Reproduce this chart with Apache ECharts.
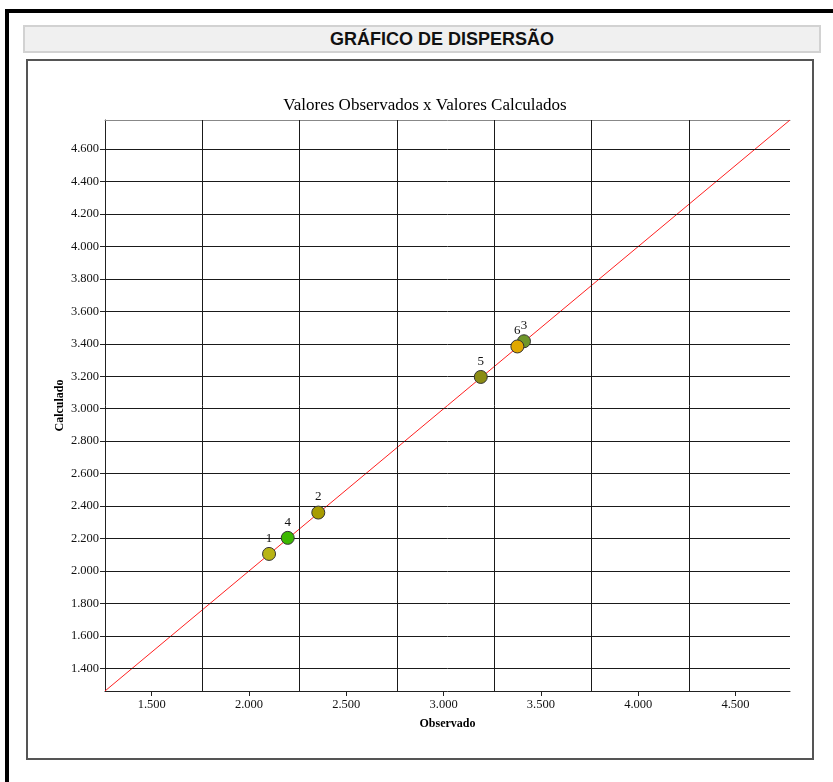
<!DOCTYPE html>
<html>
<head>
<meta charset="utf-8">
<script src="https://cdn.jsdelivr.net/npm/echarts@6/dist/echarts.min.js"></script>
<style>
  html, body { margin: 0; padding: 0; background: #fff; }
  #page { position: relative; width: 833px; height: 782px; overflow: hidden; background: #fff; }
  .bar-top { position: absolute; left: 5px; top: 9px; width: 828px; height: 4px; background: #000; }
  .bar-left { position: absolute; left: 5px; top: 9px; width: 4px; height: 773px; background: #000; }
  .header { position: absolute; left: 23px; top: 25px; width: 798px; height: 28px; box-sizing: border-box;
            background: #f0f0f0; border: 2px solid #d2d2d2; }
  .header span { position: absolute; left: 417px; top: 2px; transform: translateX(-50%); white-space: nowrap;
            font-family: "Liberation Sans", Arial, sans-serif; font-weight: bold; font-size: 18px; color: #111; }
  .box { position: absolute; left: 26px; top: 59px; width: 788px; height: 701px; box-sizing: border-box;
         border: 2px solid #555; }
  #chart { position: absolute; left: 0; top: 0; width: 833px; height: 782px; }
</style>
</head>
<body>
<div id="page">
  <div class="bar-top"></div>
  <div class="bar-left"></div>
  <div class="header"><span>GRÁFICO DE DISPERSÃO</span></div>
  <div class="box"></div>
  <div id="chart"></div>
</div>
<script>
// ---- data ----
var pointLabels = ['1', '2', '3', '4', '5', '6'];
var observado = [2103, 2356, 3413, 2199, 3191, 3379];
var calculado = [2105, 2360, 3416, 2204, 3196, 3384];
var pointColors = ['#b8b414', '#a89c00', '#6e9628', '#3cb800', '#8c8c14', '#e0a800'];
var axisRange = [1260, 4780];
var xTickValues = [1500, 2000, 2500, 3000, 3500, 4000, 4500];
var yTickValues = [1400, 1600, 1800, 2000, 2200, 2400, 2600, 2800, 3000, 3200, 3400, 3600, 3800, 4000, 4200, 4400, 4600];
var xGridValues = [1760, 2260, 2760, 3260, 3760, 4260];
var identityLine = [[1260, 1260], [4780, 4780]];

function fmt(v) {
  var t = Math.floor(v / 1000);
  var r = String(Math.round(v % 1000)).padStart(3, '0');
  return t + '.' + r;
}

var serif = '"Liberation Serif", "Times New Roman", serif';
var chart = echarts.init(document.getElementById('chart'), null, { renderer: 'canvas' });

var scatterData = observado.map(function (x, i) {
  return {
    value: [x, calculado[i]],
    name: pointLabels[i],
    itemStyle: { color: pointColors[i] }
  };
});

var gridLines = [];
xGridValues.forEach(function (v) { gridLines.push({ xAxis: v }); });
yTickValues.forEach(function (v) { gridLines.push({ yAxis: v }); });

chart.setOption({
  animation: false,
  backgroundColor: 'transparent',
  title: {
    text: 'Valores Observados x Valores Calculados',
    left: 420, top: 92, textAlign: 'center',
    textStyle: { fontFamily: serif, fontSize: 17, fontWeight: 'normal', color: '#000' }
  },
  grid: { left: 105, top: 120, right: 43, bottom: 91, containLabel: false },
  xAxis: [{
    type: 'value', position: 'bottom',
    min: axisRange[0], max: axisRange[1],
    name: 'Observado', nameLocation: 'middle', nameGap: 27, nameMoveOverlap: false,
    nameTextStyle: { fontFamily: serif, fontSize: 12, fontWeight: 'bold', color: '#000' },
    axisLine: { show: true, lineStyle: { color: '#222', width: 1 } },
    axisTick: { show: true, length: 5, inside: false, customValues: xTickValues, lineStyle: { color: '#222' } },
    axisLabel: { show: true, customValues: xTickValues, margin: 7, formatter: fmt,
      fontFamily: serif, fontSize: 12.5, color: '#111' },
    splitLine: { show: false }
  }, {
    type: 'value', position: 'top',
    min: axisRange[0], max: axisRange[1],
    axisLine: { show: true, lineStyle: { color: '#888', width: 1 } },
    axisTick: { show: false }, axisLabel: { show: false }, splitLine: { show: false }
  }],
  yAxis: [{
    type: 'value', position: 'left',
    min: axisRange[0], max: axisRange[1],
    name: 'Calculado', nameLocation: 'middle', nameGap: 39, nameMoveOverlap: false,
    nameTextStyle: { fontFamily: serif, fontSize: 12, fontWeight: 'bold', color: '#000' },
    axisLine: { show: true, lineStyle: { color: '#222', width: 1 } },
    axisTick: { show: true, length: 5, customValues: yTickValues, lineStyle: { color: '#222' } },
    axisLabel: { show: true, customValues: yTickValues, margin: 6, formatter: fmt,
      fontFamily: serif, fontSize: 12.5, color: '#111' },
    splitLine: { show: false }
  }],
  series: [{
    type: 'line', xAxisIndex: 0, yAxisIndex: 0, data: [], silent: true, z: 1,
    markLine: {
      silent: true, symbol: ['none', 'none'], animation: false,
      label: { show: false },
      lineStyle: { color: '#1a1a1a', width: 1, type: 'solid' },
      emphasis: { disabled: true },
      data: gridLines
    }
  }, {
    type: 'line', xAxisIndex: 0, yAxisIndex: 0, data: identityLine, z: 3,
    symbol: 'none', silent: true,
    lineStyle: { color: '#ff2020', width: 1 }
  }, {
    type: 'scatter', xAxisIndex: 0, yAxisIndex: 0, data: scatterData, z: 5,
    symbol: 'circle', symbolSize: 13,
    itemStyle: { borderColor: '#333', borderWidth: 1, opacity: 1 },
    label: { show: true, position: 'top', distance: 2, formatter: '{b}',
      fontFamily: serif, fontSize: 13, color: '#111' }
  }]
});
</script>
</body>
</html>
